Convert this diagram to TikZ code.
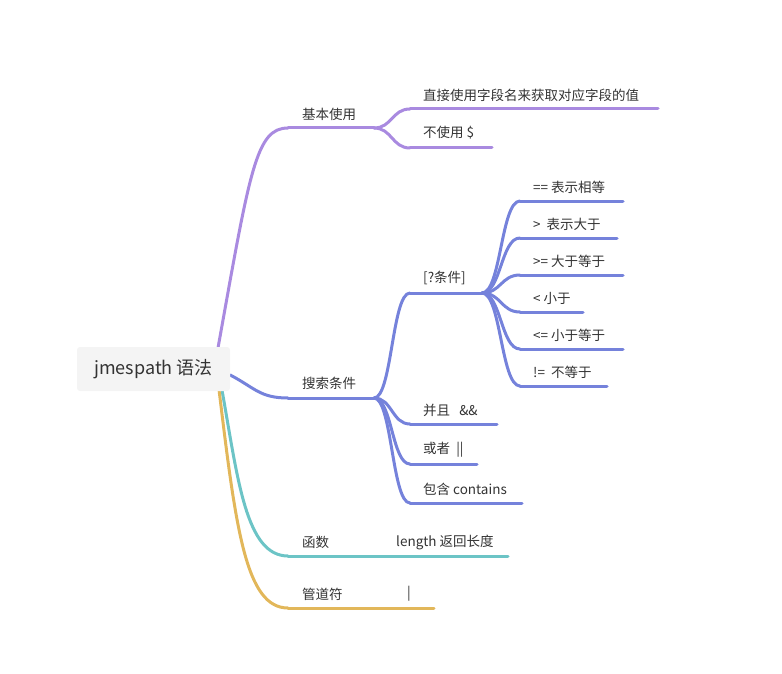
\documentclass[tikz,border=0pt]{standalone}
\usepackage{fontspec}
\setmainfont{Noto Sans CJK SC}
\usepackage{tikz}
\usetikzlibrary{calc,backgrounds}
\definecolor{purp}{HTML}{A98AE0}
\definecolor{blu}{HTML}{7582DB}
\definecolor{teal2}{HTML}{6CC4C6}
\definecolor{gold}{HTML}{E2B75A}
\definecolor{ink}{HTML}{333333}
\definecolor{rootbg}{HTML}{F4F4F4}
\tikzset{
  root/.style={fill=rootbg,rounded corners=3pt,minimum width=153pt,minimum height=44pt,inner sep=0pt,
    font=\fontsize{18}{20}\selectfont,text=ink},
  lab/.style={anchor=west,inner sep=0pt,font=\fontsize{13.5}{16}\selectfont,text=ink},
  br/.style={line width=3pt,line cap=round},
}
% mind-map curve: horizontal tangents at both ends
\newcommand{\fork}[3]{\draw[br,#1] (#2) .. controls ($(#2)!0.5!(#2 -| #3)$) and ($(#3)!0.5!(#3 -| #2)$) .. (#3);}

\begin{document}
\begin{tikzpicture}[x=1pt,y=-1pt]
\useasboundingbox (0,0) rectangle (782,674);

\node[root] (r) at (153.5,369) {jmespath 语法};

% 基本使用
\coordinate (b0) at (288,128); \coordinate (b1) at (374,128);
\node[lab] (b) at (302,114) {基本使用};
\coordinate (b10) at (410,109); \coordinate (b11) at (658,109);
\node[lab] (b1t) at (423,95) {直接使用字段名来获取对应字段的值};
\coordinate (b20) at (410,148); \coordinate (b21) at (492,148);
\node[lab] (b2t) at (423,133) {不使用 \$};
\draw[br,purp] (b0) -- (b1);
\fork{purp}{b1}{b10} \draw[br,purp] (b10) -- (b11);
\fork{purp}{b1}{b20} \draw[br,purp] (b20) -- (b21);

% 搜索条件
\coordinate (s0) at (288,398); \coordinate (s1) at (374,398);
\node[lab] (s) at (302,383) {搜索条件};
\draw[br,blu] (s0) -- (s1);

\coordinate (c0) at (410,293); \coordinate (c1) at (482,293);
\node[lab] (c) at (423,278) {[?条件]};
\fork{blu}{s1}{c0} \draw[br,blu] (c0) -- (c1);

\coordinate (c10) at (520,201); \coordinate (c11) at (623,201);
\node[lab] (c1t) at (533,187) {== 表示相等};
\coordinate (c20) at (520,238); \coordinate (c21) at (617,238);
\node[lab] (c2t) at (533,224) {>\ \ 表示大于};
\coordinate (c30) at (520,275); \coordinate (c31) at (623,275);
\node[lab] (c3t) at (533,261) {>= 大于等于};
\coordinate (c40) at (520,312); \coordinate (c41) at (583,312);
\node[lab] (c4t) at (533,298) {< 小于};
\coordinate (c50) at (520,349); \coordinate (c51) at (623,349);
\node[lab] (c5t) at (533,335) {<= 小于等于};
\coordinate (c60) at (520,386); \coordinate (c61) at (607,386);
\node[lab] (c6t) at (533,372) {!=\ \ 不等于};
\foreach \i in {1,...,6}{
  \fork{blu}{c1}{c\i0} \draw[br,blu] (c\i0) -- (c\i1);
}

\coordinate (a0) at (410,424); \coordinate (a1) at (497,424);
\node[lab] (at) at (423,410) {并且\ \ \ \&\&};
\coordinate (o0) at (410,464); \coordinate (o1) at (477,464);
\node[lab] (ot) at (423,450) {或者\ \ ||};
\coordinate (k0) at (410,503); \coordinate (k1) at (522,503);
\node[lab] (kt) at (423,489) {包含 contains};
\foreach \n in {a,o,k}{
  \fork{blu}{s1}{\n0} \draw[br,blu] (\n0) -- (\n1);
}

% 函数
\coordinate (f0) at (288,556); \coordinate (f1) at (508,556);
\node[lab] (f) at (302,542) {函数};
\node[lab] (ft) at (396,542) {length 返回长度};
\draw[br,teal2] (f0) -- (f1);

% 管道符
\coordinate (p0) at (288,608); \coordinate (p1) at (434,608);
\node[lab] (p) at (302,594) {管道符};
\node[lab] (pt) at (407,594) {|};
\draw[br,gold] (p0) -- (p1);

% branches leaving the root, behind its box
\begin{scope}[on background layer]
\draw[br,purp] (r.north east) ++(-12,0) .. controls (250,170) and (256,128) .. (b0);
\draw[br,blu] (r.east) ++(0,6) .. controls (255,388) and (260,398) .. (s0);
\draw[br,teal2] (r.south east) ++(-8,0) .. controls (238,480) and (246,556) .. (f0);
\draw[br,gold] (r.south east) ++(-11,0) .. controls (236,530) and (246,608) .. (p0);
\end{scope}
\end{tikzpicture}
\end{document}
